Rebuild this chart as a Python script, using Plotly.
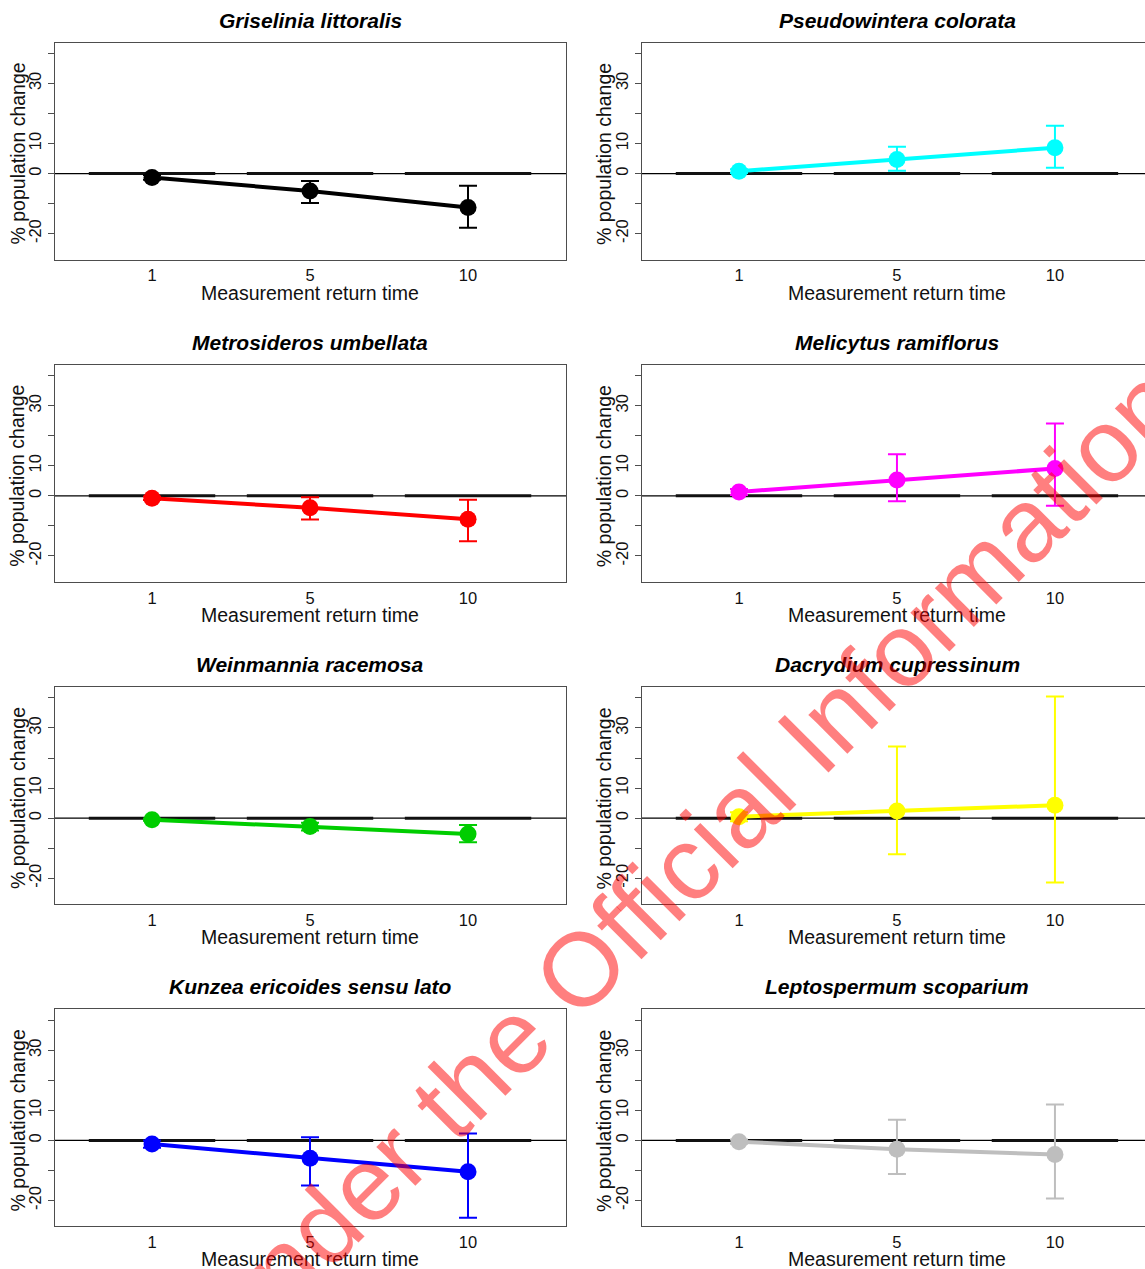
import plotly.graph_objects as go

# ---- data -------------------------------------------------------------
species = [
    "Griselinia littoralis", "Pseudowintera colorata",
    "Metrosideros umbellata", "Melicytus ramiflorus",
    "Weinmannia racemosa", "Dacrydium cupressinum",
    "Kunzea ericoides sensu lato", "Leptospermum scoparium",
]
colors = ["#000000", "#00FFFF", "#FF0000", "#FF00FF",
          "#00CD00", "#FFFF00", "#0000FF", "#BEBEBE"]
return_time = ["1", "5", "10"]

# mean % population change and its upper / lower interval limits
mean_change = [
    [-1.3, -5.8, -11.3],
    [0.8, 4.7, 8.6],
    [-0.8, -4.0, -7.8],
    [1.3, 5.3, 9.1],
    [-0.5, -2.8, -5.3],
    [0.5, 2.4, 4.3],
    [-1.2, -5.9, -10.4],
    [-0.4, -2.9, -4.7],
]
upper_limit = [
    [-0.5, -2.5, -4.1],
    [1.4, 8.9, 15.9],
    [-0.2, -0.5, -1.3],
    [2.3, 13.8, 24.1],
    [-0.1, -1.5, -2.3],
    [2.0, 23.8, 40.5],
    [0.0, 1.1, 2.3],
    [0.3, 6.9, 12.0],
]
lower_limit = [
    [-2.1, -9.8, -18.0],
    [0.2, 0.9, 1.9],
    [-1.4, -7.9, -15.1],
    [0.3, -1.8, -3.3],
    [-0.9, -4.1, -8.0],
    [-1.0, -12.0, -21.4],
    [-2.4, -15.0, -25.7],
    [-1.1, -11.2, -19.3],
]
baseline = [0, 0, 0]
y_tick_vals = [-20, -10, 0, 10, 20, 30, 40]
y_tick_text = ["-20", "", "0", "10", "", "30", ""]

# ---- layout geometry (pixels) ----------------------------------------
W, H = 1145, 1269
FONT = "Liberation Sans, Arial, sans-serif"
col_px = [(55, 566), (641.5, 1145)]
col_xrange = [[0.386, 3.62], [0.383, 3.57]]
row_top0, row_step, box_h = 42.5, 322.3, 217
y_range = [-28.6, 43.6]
axis_col = "#4d4d4d"

fig = go.Figure()
annotations = []
shapes = []
layout_axes = {}

for i, sp in enumerate(species):
    r, c = divmod(i, 2)
    n = i + 1
    sfx = "" if n == 1 else str(n)
    xref, yref = "x" + sfx, "y" + sfx
    x0p, x1p = col_px[c]
    top = row_top0 + r * row_step
    bot = top + box_h
    pos = [1, 2, 3]

    layout_axes["xaxis" + sfx] = dict(
        domain=[x0p / W, x1p / W], range=col_xrange[c], anchor=yref,
        tickmode="array", tickvals=pos, ticktext=return_time, ticks="",
        showline=True, mirror=True, linecolor=axis_col, linewidth=1,
        showgrid=False, zeroline=False, ticklabelstandoff=1,
        tickfont=dict(family=FONT, size=16.5, color="#111"),
    )
    layout_axes["yaxis" + sfx] = dict(
        domain=[1 - bot / H, 1 - top / H], range=y_range, anchor=xref,
        tickmode="array", tickvals=y_tick_vals, ticktext=y_tick_text,
        ticks="outside", ticklen=6, tickcolor=axis_col, tickangle=-90,
        showline=True, mirror=(c == 0), linecolor=axis_col, linewidth=1,
        showgrid=False, zeroline=False,
        tickfont=dict(family=FONT, size=16.5, color="#111"),
    )

    # thin reference line at zero across the panel
    shapes.append(dict(type="line", xref=f"{xref} domain", yref=yref,
                       x0=0, x1=1, y0=0, y1=0,
                       line=dict(color="#000", width=1.2), layer="below"))

    # thick baseline segments centred on each return time
    seg_x, seg_y = [], []
    for p, b in zip(pos, baseline):
        seg_x += [p - 0.4, p + 0.4, None]
        seg_y += [b, b, None]
    fig.add_trace(go.Scatter(x=seg_x, y=seg_y, mode="lines", xaxis=xref,
                             yaxis=yref, showlegend=False, hoverinfo="skip",
                             line=dict(color="#111", width=3)))

    m = mean_change[i]
    up = [u - v for u, v in zip(upper_limit[i], m)]
    dn = [v - l for v, l in zip(m, lower_limit[i])]
    fig.add_trace(go.Scatter(
        x=pos, y=m, mode="lines+markers", xaxis=xref, yaxis=yref,
        showlegend=False,
        line=dict(color=colors[i], width=4),
        marker=dict(color=colors[i], size=17),
        error_y=dict(type="data", symmetric=False, array=up, arrayminus=dn,
                     color=colors[i], thickness=2, width=9),
    ))

    # horizontal centre of the full panel box (the right column runs past the page edge)
    cx = x0p + (3.62 - col_xrange[c][0]) * 158 / 2
    # panel title
    annotations.append(dict(text=f"<b><i>{sp}</i></b>", xref="paper",
                            yref="paper", x=cx / W, y=1 - (top - 22.5) / H,
                            xanchor="center", yanchor="middle",
                            showarrow=False,
                            font=dict(family=FONT, size=21, color="#000")))
    # x axis label
    annotations.append(dict(text="Measurement return time", xref="paper",
                            yref="paper", x=cx / W, y=1 - (bot + 33) / H,
                            xanchor="center", yanchor="middle",
                            showarrow=False,
                            font=dict(family=FONT, size=19.5, color="#111")))
    # y axis label
    annotations.append(dict(text="% population change", xref="paper",
                            yref="paper", x=(x0p - 37.5) / W,
                            y=1 - (top + box_h / 2 + 3) / H,
                            xanchor="center", yanchor="middle",
                            textangle=-90, showarrow=False,
                            font=dict(family=FONT, size=19.5, color="#111")))

# release stamp across the page
annotations.append(dict(text="Released under the Official Information Act",
                        xref="paper", yref="paper", x=588 / W, y=1 - 962 / H,
                        xanchor="center", yanchor="middle", textangle=-45,
                        showarrow=False,
                        font=dict(family=FONT, size=104,
                                  color="rgba(255,0,0,0.5)")))

fig.update_layout(
    width=W, height=H, margin=dict(l=0, r=0, t=0, b=0),
    paper_bgcolor="white", plot_bgcolor="white",
    annotations=annotations, shapes=shapes, hovermode=False,
    **layout_axes,
)

fig.write_html("out.html", config={"displayModeBar": False})
